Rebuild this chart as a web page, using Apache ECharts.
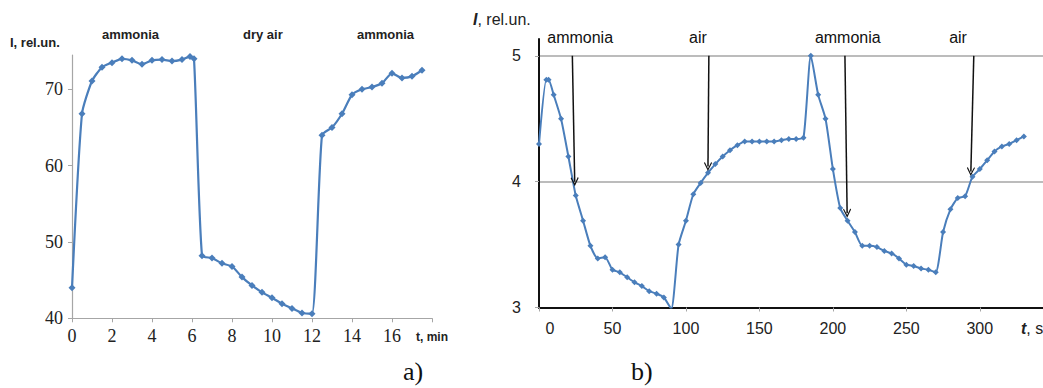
<!DOCTYPE html>
<html>
<head>
<meta charset="utf-8">
<script src="https://cdn.jsdelivr.net/npm/echarts@6/dist/echarts.min.js"></script>
<style>
  html, body { margin: 0; padding: 0; background: #fff; }
  #chart { width: 1043px; height: 388px; }
</style>
</head>
<body>
<div id="chart"></div>
<script>
// a) response to ammonia / dry air, t in minutes
const leftTime = [0, 0.5, 1, 1.5, 2, 2.5, 3, 3.5, 4, 4.5, 5, 5.5, 5.9, 6.1,
  6.5, 7, 7.5, 8, 8.5, 9, 9.5, 10, 10.5, 11, 11.5, 12,
  12.5, 13, 13.5, 14, 14.5, 15, 15.5, 16, 16.5, 17, 17.5];
const leftSignal = [44.0, 66.8, 71.1, 72.9, 73.5, 74.0, 73.8, 73.3, 73.8, 73.9, 73.7, 73.9, 74.3, 74.0,
  48.2, 47.9, 47.2, 46.8, 45.4, 44.3, 43.4, 42.7, 41.9, 41.3, 40.7, 40.6,
  64.0, 65.0, 66.8, 69.3, 70.0, 70.3, 70.8, 72.1, 71.5, 71.7, 72.5];
const leftXTicks = [0, 2, 4, 6, 8, 10, 12, 14, 16, 18];
const leftYTicks = [40, 50, 60, 70];
const phaseLabels = ['ammonia', 'dry air', 'ammonia'];

// b) response to ammonia / air, t in seconds
const rightTime = [0, 5, 6.5, 10, 15, 20, 25, 30, 35, 40, 45, 50, 55, 60, 65, 70, 75, 80, 85, 90,
  95, 100, 105, 110, 115, 120, 125, 130, 135, 140, 145, 150, 155, 160, 165, 170, 175, 180,
  185, 190, 195, 200, 205, 210, 215, 220, 225, 230, 235, 240, 245, 250, 255, 260, 265, 270,
  275, 280, 285, 290, 295, 300, 305, 310, 315, 320, 325, 330];
const rightSignal = [4.30, 4.81, 4.81, 4.69, 4.50, 4.20, 3.89, 3.69, 3.49, 3.39, 3.40, 3.30, 3.28, 3.24, 3.20, 3.17, 3.13, 3.11, 3.08, 2.99,
  3.50, 3.69, 3.90, 3.99, 4.07, 4.14, 4.20, 4.25, 4.29, 4.32, 4.32, 4.32, 4.32, 4.32, 4.33, 4.34, 4.34, 4.35,
  5.00, 4.69, 4.50, 4.10, 3.79, 3.69, 3.60, 3.49, 3.49, 3.48, 3.45, 3.43, 3.39, 3.34, 3.33, 3.31, 3.30, 3.28,
  3.60, 3.78, 3.87, 3.885, 4.04, 4.10, 4.17, 4.24, 4.28, 4.30, 4.33, 4.36];
const rightXTicks = [0, 50, 100, 150, 200, 250, 300];
const rightYTicks = [3, 4, 5];
const arrowLabels = ['ammonia', 'air', 'ammonia', 'air'];
const arrowStart = [[22.7, 5], [115.6, 5], [208.2, 5], [295.9, 5]];
const arrowEnd = [[24.3, 4.0], [115, 4.12], [209.7, 3.75], [293.9, 4.08]];
const arrowShift = [8, -11, 3, -16];

const blue = '#4a7ebb';
const chevron = 'path://M5,0 L10,9 L9,10 L5,3 L1,10 L0,9 Z';

const chart = echarts.init(document.getElementById('chart'), null, { renderer: 'svg' });

const leftData = leftTime.map((t, i) => [t, leftSignal[i]]);
const rightData = rightTime.map((t, i) => [t, rightSignal[i]]);

const arrowLines = arrowLabels.map((name, i) => [
  { coord: arrowStart[i], name: name, label: { offset: [arrowShift[i], 0] } },
  { coord: arrowEnd[i] }
]);

const serifLabel = { fontFamily: 'Liberation Serif', fontSize: 18, color: '#222' };
const sansLabel = { fontFamily: 'Liberation Sans', fontSize: 16, color: '#222' };

const option = {
  animation: false,
  grid: [
    { left: 72, top: 55, width: 360, height: 263.3, containLabel: false, outerBoundsMode: 'none' },
    { left: 539, top: 39, width: 504, height: 268.5, containLabel: false, outerBoundsMode: 'none' }
  ],
  xAxis: [
    {
      type: 'value', gridIndex: 0, min: 0, max: 18, interval: 2,
      axisLine: { lineStyle: { color: '#a6a6a6', width: 1.2 } },
      axisTick: { length: 4, lineStyle: { color: '#a6a6a6' }, customValues: leftXTicks },
      splitLine: { show: false },
      axisLabel: Object.assign({}, serifLabel, {
        margin: 9,
        customValues: leftXTicks,
        formatter: v => v === 18 ? '{u|t, min}' : String(v),
        rich: { u: { fontFamily: 'Liberation Sans', fontWeight: 'bold', fontSize: 12, color: '#222', padding: [4, 0, 0, 0] } }
      })
    },
    {
      type: 'value', gridIndex: 1, min: 0, max: 343, interval: 50,
      axisLine: { lineStyle: { color: '#111', width: 2 } },
      axisTick: { length: 4, lineStyle: { color: '#a6a6a6' }, customValues: rightXTicks },
      splitLine: { show: false },
      axisLabel: Object.assign({}, sansLabel, {
        margin: 13,
        customValues: rightXTicks,
        formatter: v => v === 0 ? '{z|0}' : String(v),
        rich: { z: { fontFamily: 'Liberation Sans', fontSize: 16, color: '#222', padding: [0, 0, 0, 22] } }
      })
    }
  ],
  yAxis: [
    {
      type: 'value', gridIndex: 0, min: 40, max: 74.5, interval: 10,
      axisLine: { show: true, lineStyle: { color: '#a6a6a6', width: 1.2 } },
      axisTick: { show: true, length: 4, lineStyle: { color: '#a6a6a6' }, customValues: leftYTicks },
      splitLine: { show: false },
      axisLabel: Object.assign({}, serifLabel, { margin: 9, customValues: leftYTicks })
    },
    {
      type: 'value', gridIndex: 1, min: 3, max: 5.134, interval: 1,
      axisLine: { show: true, lineStyle: { color: '#111', width: 2 } },
      axisTick: { show: true, length: 4, lineStyle: { color: '#a6a6a6' }, customValues: rightYTicks },
      splitLine: { show: true, lineStyle: { color: '#a6a6a6', width: 1.5 } },
      axisLabel: Object.assign({}, sansLabel, { margin: 18, customValues: rightYTicks })
    }
  ],
  series: [
    {
      type: 'line', xAxisIndex: 0, yAxisIndex: 0,
      data: leftData,
      smooth: 0.2,
      symbol: 'diamond', symbolSize: 7,
      lineStyle: { color: blue, width: 2.2 },
      itemStyle: { color: blue }
    },
    {
      type: 'line', xAxisIndex: 1, yAxisIndex: 1,
      data: rightData,
      smooth: 0.2,
      symbol: 'diamond', symbolSize: 6,
      lineStyle: { color: blue, width: 2 },
      itemStyle: { color: blue },
      markLine: {
        silent: true,
        symbol: ['none', chevron],
        symbolSize: [8, 9],
        lineStyle: { color: '#111', width: 1.5, type: 'solid' },
        label: {
          show: true, position: 'start', distance: 10, formatter: '{b}',
          fontFamily: 'Liberation Sans', fontSize: 16, color: '#111'
        },
        emphasis: { disabled: true },
        data: arrowLines
      }
    }
  ],
  graphic: [
    {
      type: 'text', left: 10, top: 36,
      style: { text: 'I, rel.un.', font: 'bold 13px "Liberation Sans"', fill: '#222' }
    },
    {
      type: 'text', left: 102, top: 28,
      style: { text: phaseLabels[0], font: 'bold 13px "Liberation Sans"', fill: '#222' }
    },
    {
      type: 'text', left: 243, top: 28,
      style: { text: phaseLabels[1], font: 'bold 13px "Liberation Sans"', fill: '#222' }
    },
    {
      type: 'text', left: 357, top: 28,
      style: { text: phaseLabels[2], font: 'bold 13px "Liberation Sans"', fill: '#222' }
    },
    {
      type: 'text', left: 473, top: 11,
      style: {
        text: '{i|I}, rel.un.', font: '16px "Liberation Sans"', fill: '#222',
        rich: { i: { fontStyle: 'italic', fontWeight: 'bold', fontSize: 16, fontFamily: 'Liberation Sans', color: '#222' } }
      }
    },
    {
      type: 'text', left: 1021, top: 320,
      style: {
        text: '{i|t}, s', font: '16px "Liberation Sans"', fill: '#222',
        rich: { i: { fontStyle: 'italic', fontWeight: 'bold', fontSize: 16, fontFamily: 'Liberation Sans', color: '#222' } }
      }
    },
    {
      type: 'text', left: 403, top: 358,
      style: { text: 'a)', font: '26px "Liberation Serif"', fill: '#111' }
    },
    {
      type: 'text', left: 631, top: 358,
      style: { text: 'b)', font: '26px "Liberation Serif"', fill: '#111' }
    }
  ]
};

chart.setOption(option);
</script>
</body>
</html>
